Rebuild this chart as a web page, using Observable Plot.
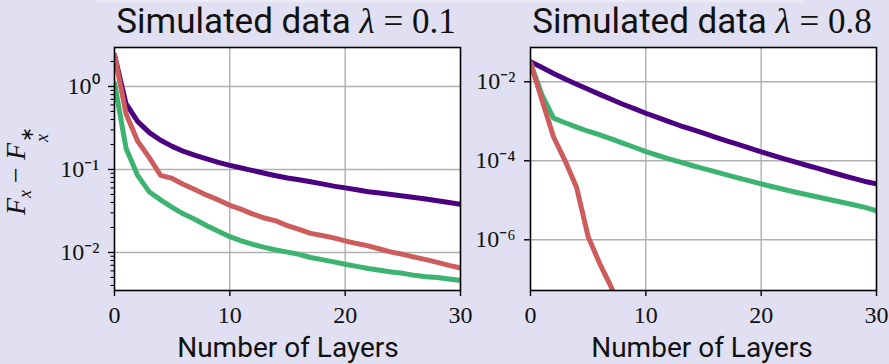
<!DOCTYPE html>
<html>
<head>
<meta charset="utf-8">
<script src="https://cdn.jsdelivr.net/npm/d3@7"></script>
<script src="https://cdn.jsdelivr.net/npm/@observablehq/plot@0.6"></script>
<style>
  html, body { margin: 0; padding: 0; }
  body { width: 889px; height: 364px; background: #e0e0f2; overflow: hidden; position: relative; }
  .abs { position: absolute; }
  .title { font-family: Roboto, "DejaVu Sans", sans-serif; font-size: 35px; line-height: 35px; color: #111; white-space: nowrap; transform: translateX(-50%); top: 4px; }
  .math { font-family: "Liberation Serif", serif; font-size: 35px; }
  .xlab { font-family: Roboto, "DejaVu Sans", sans-serif; font-size: 28px; line-height: 28px; color: #111; white-space: nowrap; transform: translateX(-50%); top: 334px; }
  .ylab { font-family: "Liberation Serif", serif; font-size: 28px; color: #111; white-space: nowrap; left: 25px; top: 171px; transform: translate(-50%, -50%) rotate(-90deg); }
  .ss { display: inline-flex; flex-direction: column; font-size: 18px; line-height: 15px; vertical-align: -8px; margin-left: 1px; }
  .sub { font-size: 18px; vertical-align: -6px; }
  .topstrip { left: 95px; top: 0; width: 708px; height: 2px; background: #ebebf5; }
</style>
</head>
<body>
<div class="abs topstrip"></div>
<div id="left" class="abs" style="left:0;top:0"></div>
<div id="right" class="abs" style="left:420px;top:0"></div>
<div class="abs title" style="left:286px">Simulated data <span class="math"><i>λ</i> = 0.1</span></div>
<div class="abs title" style="left:702px">Simulated data <span class="math"><i>λ</i> = 0.8</span></div>
<div class="abs xlab" style="left:288px">Number of Layers</div>
<div class="abs xlab" style="left:702px">Number of Layers</div>
<div class="abs ylab"><i>F</i><span class="sub"><i>x</i></span> − <i>F</i><span class="ss"><span>∗</span><i>x</i></span></div>
<script>
// ---- data ----
const layers = [0,1,2,3,4,5,6,7,8,9,10,11,12,13,14,15,16,17,18,19,20,21,22,23,24,25,26,27,28,29,30];

// lambda = 0.1
const purple01 = [2.4,0.62,0.38,0.28,0.225,0.19,0.165,0.148,0.134,0.122,0.112,0.104,0.097,0.09,0.084,0.079,0.075,0.071,0.067,0.063,0.06,0.057,0.054,0.052,0.05,0.048,0.046,0.044,0.042,0.04,0.038];
const red01 = [2.4,0.47,0.22,0.14,0.085,0.078,0.066,0.057,0.049,0.043,0.037,0.033,0.029,0.026,0.024,0.021,0.019,0.017,0.016,0.015,0.0138,0.0128,0.012,0.011,0.0101,0.0095,0.0088,0.0082,0.0076,0.007,0.0065];
const green01 = [1.1,0.18,0.085,0.054,0.043,0.035,0.029,0.025,0.021,0.018,0.0155,0.0138,0.0125,0.0115,0.0107,0.0101,0.0095,0.0087,0.0082,0.0077,0.0072,0.0068,0.0064,0.0061,0.0058,0.0056,0.0053,0.0051,0.005,0.0048,0.0046];

// lambda = 0.8
const purple08 = [0.032,0.023,0.0163,0.0118,0.0087,0.0065,0.0048,0.0036,0.0027,0.0021,0.0016,0.00125,0.00098,0.00077,0.00062,0.0005,0.0004,0.00032,0.00026,0.00021,0.000168,0.000137,0.000112,0.000092,0.000076,0.000063,0.000052,0.000043,0.000036,0.00003,0.000026];
const green08 = [0.03,0.0046,0.0012,0.00092,0.00071,0.00056,0.00045,0.00036,0.00028,0.00022,0.00017,0.000138,0.000112,0.000092,0.000076,0.000063,0.000053,0.000044,0.000037,0.000031,0.000026,0.000022,0.0000188,0.000016,0.0000138,0.0000119,0.0000103,0.0000089,0.0000077,0.0000066,0.0000054];
const red08 = [0.03,0.0034,0.0004,0.0001,0.000021,0.0000012,0.00000025,0.000000063,0.000000012,0.000000002];

// ticks
const xTicks = [0,10,20,30];
const yTicks01 = [1,0.1,0.01];
const yLabels01 = ["10⁰","10⁻¹","10⁻²"];
const yMinor01 = [0.004,0.005,0.006,0.007,0.008,0.009,0.02,0.03,0.04,0.05,0.06,0.07,0.08,0.09,0.2,0.3,0.4,0.5,0.6,0.7,0.8,0.9,2];
const yTicks08 = [1e-2,1e-4,1e-6];
const yLabels08 = ["10⁻²","10⁻⁴","10⁻⁶"];

const colors = {purple: "#4b0082", red: "#cd5c5c", green: "#3cb371"};

function series(vals, name) {
  return vals.map((v, i) => ({x: layers[i], y: v, s: name}));
}

function panel(opts) {
  const {domainY, lines, ticks, labels, minor, width, marginLeft, marginRight} = opts;
  const fmt = d => labels[ticks.indexOf(d)] ?? "";
  const marks = [
    Plot.frame({fill: "white", stroke: null}),
    Plot.gridX([10, 20], {stroke: "#b0b0b0", strokeOpacity: 1, strokeWidth: 1.4}),
    Plot.gridY(ticks, {stroke: "#b0b0b0", strokeOpacity: 1, strokeWidth: 1.4}),
    ...lines.map(l => Plot.line(series(l.vals, l.name), {x: "x", y: "y", stroke: colors[l.color], strokeWidth: 5, clip: true})),
    Plot.frame({stroke: "black", strokeWidth: 1.6}),
    Plot.axisX(xTicks, {tickSize: 6, tickPadding: 9, label: null, fontSize: 24, stroke: "black", strokeWidth: 1.4}),
    Plot.axisY(ticks, {tickSize: 6, tickPadding: 9, label: null, tickFormat: fmt, fontSize: 24, stroke: "black", strokeWidth: 1.4})
  ];
  if (minor) marks.push(Plot.axisY(minor, {tickSize: 3.5, tickFormat: () => "", label: null, stroke: "black", strokeWidth: 1.1}));
  return Plot.plot({
    width, height: 364,
    marginLeft, marginRight, marginTop: 47, marginBottom: 74,
    style: {background: "transparent", fontFamily: "'Liberation Serif', serif", fontSize: "24px", color: "#111", overflow: "visible"},
    x: {domain: [0, 30]},
    y: {type: "log", domain: domainY},
    marks
  });
}

document.getElementById("left").append(panel({
  width: 485, marginLeft: 114, marginRight: 25,
  domainY: [0.00348, 2.95],
  ticks: yTicks01, labels: yLabels01, minor: yMinor01,
  lines: [
    {vals: purple01, name: "a", color: "purple"},
    {vals: green01, name: "c", color: "green"},
    {vals: red01, name: "b", color: "red"}
  ]
}));

document.getElementById("right").append(panel({
  width: 469, marginLeft: 110, marginRight: 13,
  domainY: [5.2e-8, 0.0738],
  ticks: yTicks08, labels: yLabels08, minor: null,
  lines: [
    {vals: purple08, name: "a", color: "purple"},
    {vals: green08, name: "c", color: "green"},
    {vals: red08, name: "b", color: "red"}
  ]
}));
</script>
</body>
</html>
